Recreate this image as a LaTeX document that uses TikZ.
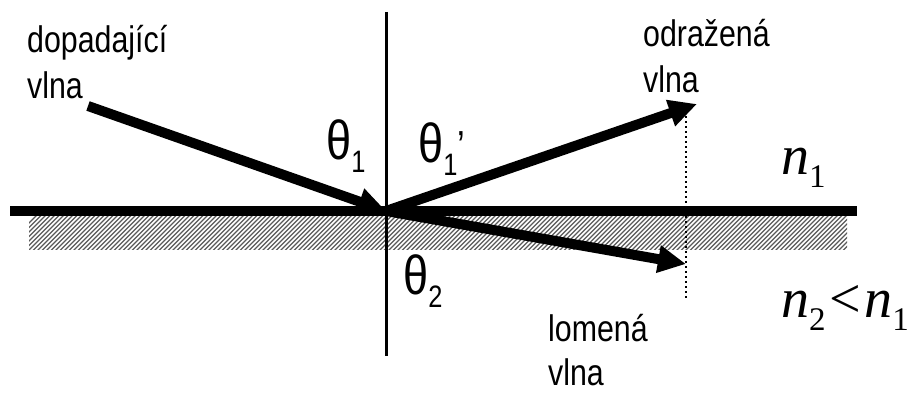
\documentclass[tikz,border=0pt]{standalone}
\usepackage{fontspec}
\setmainfont[FakeStretch=0.82]{Liberation Sans}
\newfontfamily\timesfont{Liberation Serif}
\usetikzlibrary{arrows.meta}
\newcommand{\subsz}[1]{\raisebox{-13pt}{\fontsize{31}{31}\selectfont #1}}
\newcommand{\nsub}[1]{\raisebox{-13pt}{\upshape\fontsize{33}{34}\selectfont #1}}
\begin{document}
\begin{tikzpicture}[x=1pt,y=-1pt,
  ray/.style={line width=10pt,-{Triangle[length=28pt,width=26pt]}},
  lbl/.style={anchor=base west,inner sep=0pt,font=\fontsize{37}{40}\selectfont},
  ang/.style={anchor=base west,inner sep=0pt,font=\fontsize{55}{56}\selectfont},
  idx/.style={anchor=base west,inner sep=0pt,font=\timesfont\itshape\fontsize{56}{60}\selectfont}]
\useasboundingbox (0,0) rectangle (914,395);
% hatched band
\begin{scope}
\clip (29,215) rectangle (847,250);
\foreach \i in {0,4.5,...,860}{
  \draw[gray!70!black,line width=1.4pt] (\i,252) -- (\i+40,212);
}
\end{scope}
\coordinate (O) at (386,211);
\coordinate (L) at (10,211);
\coordinate (R) at (857,211);
\coordinate (T) at (386,12);
\coordinate (B) at (386,356);
\coordinate (inc) at (88,106);
\coordinate (refl) at (697,104);
\coordinate (refr) at (686,264);
\coordinate (dotT) at (686,106);
\coordinate (dotB) at (686,298);
% normal
\draw[line width=3pt] (T) -- (B);
% interface
\draw[line width=10pt] (L) -- (R);
% dotted
\draw[line width=2.5pt,dash pattern=on 2.5pt off 2.5pt] (dotT) -- (dotB);
% rays
\draw[ray] (inc) -- (O);
\draw[ray] (O) -- (refl);
\draw[ray] (O) -- (refr);
% labels
\node[lbl] (tinc1) at (27,53) {dopadající};
\node[lbl] (tinc2) at (27,99) {vlna};
\node[lbl] (trefl1) at (643,47) {odražená};
\node[lbl] (trefl2) at (643,93) {vlna};
\node[lbl] (trefr1) at (548,342) {lomená};
\node[lbl] (trefr2) at (548,386) {vlna};
\node[ang] (th1) at (326,160) {θ\subsz{1}};
\node[ang] (th1p) at (418,163) {θ\subsz{1}\raisebox{2pt}{\fontsize{42}{42}\selectfont '}};
\node[ang] (th2) at (403,295) {θ\subsz{2}};
\node[idx] (n1) at (781,175) {n\nsub{1}};
\node[idx] (n2) at (781,318) {n\nsub{2}\kern4pt{\upshape<}\kern3pt n\nsub{1}};
\end{tikzpicture}
\end{document}
